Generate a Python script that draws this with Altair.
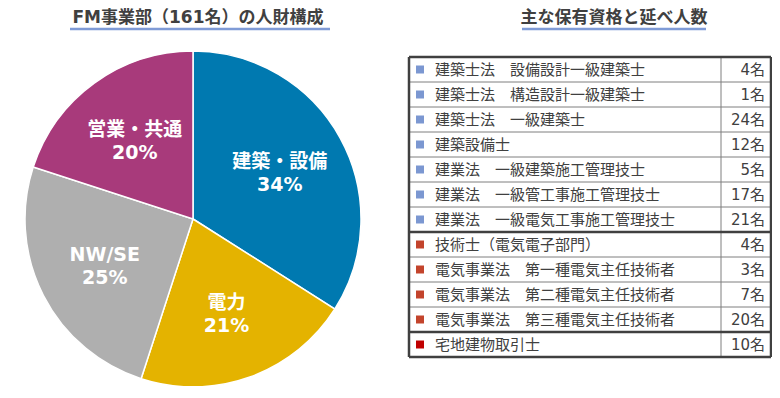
import altair as alt
import pandas as pd

# ---- data ----
left_title = "FM事業部（161名）の人財構成"
right_title = "主な保有資格と延べ人数"

segments = ["建築・設備", "電力", "NW/SE", "営業・共通"]
shares = [34, 21, 25, 20]
seg_colors = ["#0079B0", "#E4B300", "#AFAFAF", "#A83A7B"]

qualifications = [
    "建築士法　設備設計一級建築士",
    "建築士法　構造設計一級建築士",
    "建築士法　一級建築士",
    "建築設備士",
    "建業法　一級建築施工管理技士",
    "建業法　一級管工事施工管理技士",
    "建業法　一級電気工事施工管理技士",
    "技術士（電気電子部門）",
    "電気事業法　第一種電気主任技術者",
    "電気事業法　第二種電気主任技術者",
    "電気事業法　第三種電気主任技術者",
    "宅地建物取引士",
]
counts = [4, 1, 24, 12, 5, 17, 21, 4, 3, 7, 20, 10]
groups = ["建築"] * 7 + ["電気"] * 4 + ["宅建"]
group_names = ["建築", "電気", "宅建"]
group_colors = ["#7B97D1", "#C3442C", "#C00000"]

FONT = "DejaVu Sans, Noto Sans CJK JP"
CJK = "Noto Sans CJK JP"
TXT = "#404040"

pie_df = pd.DataFrame({
    "segment": segments,
    "share": shares,
    "idx": list(range(len(segments))),
    "label": [f"{s}\n{v}%" for s, v in zip(segments, shares)],
})

tbl = pd.DataFrame({
    "qual": qualifications,
    "count": [f"{c}名" for c in counts],
    "group": groups,
    "row": [i + 0.5 for i in range(len(qualifications))],
})

n = len(qualifications)
thick = []
for b in range(n + 1):
    t = b == 0 or b == n or groups[b - 1] != groups[b]
    thick.append(t)
hl = pd.DataFrame({"b": list(range(n + 1)), "thick": thick})
hl_thin = hl[~hl["thick"]]
hl_thick = hl[hl["thick"]]

yscale = alt.Scale(domain=[0, n], range=[49, 349])

CX, CY = 185, 211
TL, TR, TD = 401, 763, 713

arc = alt.Chart(pie_df).mark_arc(outerRadius=168, stroke="white", strokeWidth=1.5).encode(
    theta=alt.Theta("share:Q", stack=True),
    color=alt.Color("segment:N", scale=alt.Scale(domain=segments, range=seg_colors), legend=None),
    order=alt.Order("idx:Q"),
    x=alt.value(CX), y=alt.value(CY),
)

labels = alt.Chart(pie_df).mark_text(
    radius=99, dy=-9, fontSize=19, fontWeight="bold", color="white", font=FONT,
    lineBreak="\n", lineHeight=23, baseline="middle",
).encode(
    theta=alt.Theta("share:Q", stack=True),
    order=alt.Order("idx:Q"),
    text="label:N",
    x=alt.value(CX), y=alt.value(CY),
)

title_df = pd.DataFrame({"t": [left_title, right_title], "side": ["L", "R"]})
lt = alt.Chart(title_df[title_df.side == "L"]).mark_text(
    fontSize=17, fontWeight="bold", color=TXT, font=FONT, baseline="middle"
).encode(text="t:N", x=alt.value(190), y=alt.value(10))
rt = alt.Chart(title_df[title_df.side == "R"]).mark_text(
    fontSize=17, fontWeight="bold", color=TXT, font=FONT, baseline="middle"
).encode(text="t:N", x=alt.value(606), y=alt.value(10))
lu = alt.Chart(title_df[title_df.side == "L"]).mark_rule(color="#7F9BD6", strokeWidth=2.5).encode(
    x=alt.value(62), x2=alt.value(322), y=alt.value(21))
ru = alt.Chart(title_df[title_df.side == "R"]).mark_rule(color="#7F9BD6", strokeWidth=2.5).encode(
    x=alt.value(514), x2=alt.value(698), y=alt.value(21))

thin_rules = alt.Chart(hl_thin).mark_rule(color="#7F7F7F", strokeWidth=1).encode(
    y=alt.Y("b:Q", scale=yscale, axis=None), x=alt.value(TL), x2=alt.value(TR))
thick_rules = alt.Chart(hl_thick).mark_rule(color="#404040", strokeWidth=2.5).encode(
    y=alt.Y("b:Q", scale=yscale, axis=None), x=alt.value(TL), x2=alt.value(TR))

vdf = pd.DataFrame({"y0": [0], "y1": [n]})
vdiv = alt.Chart(vdf).mark_rule(color="#7F7F7F", strokeWidth=1).encode(
    y=alt.Y("y0:Q", scale=yscale, axis=None), y2="y1:Q", x=alt.value(TD))
vleft = alt.Chart(vdf).mark_rule(color="#404040", strokeWidth=2.5).encode(
    y=alt.Y("y0:Q", scale=yscale, axis=None), y2="y1:Q", x=alt.value(TL))
vright = alt.Chart(vdf).mark_rule(color="#404040", strokeWidth=2.5).encode(
    y=alt.Y("y0:Q", scale=yscale, axis=None), y2="y1:Q", x=alt.value(TR))

squares = alt.Chart(tbl).mark_square(size=64, opacity=1).encode(
    y=alt.Y("row:Q", scale=yscale, axis=None),
    x=alt.value(412),
    color=alt.Color("group:N", scale=alt.Scale(domain=group_names, range=group_colors), legend=None),
)
qual_txt = alt.Chart(tbl).mark_text(
    align="left", baseline="middle", fontSize=15, color=TXT, font=CJK
).encode(y=alt.Y("row:Q", scale=yscale, axis=None), x=alt.value(427), text="qual:N")
cnt_txt = alt.Chart(tbl).mark_text(
    align="right", baseline="middle", fontSize=15, color=TXT, font=FONT
).encode(y=alt.Y("row:Q", scale=yscale, axis=None), x=alt.value(TR - 6), text="count:N")

chart = alt.layer(
    arc, labels, lt, rt, lu, ru,
    thin_rules, vdiv, thick_rules, vleft, vright,
    squares, qual_txt, cnt_txt,
).resolve_scale(color="independent").properties(
    width=764, height=378, padding=0, autosize=alt.AutoSizeParams(type="none")
).configure_view(stroke=None)

chart.save("out.html", embed_options={"renderer": "svg", "actions": False})
